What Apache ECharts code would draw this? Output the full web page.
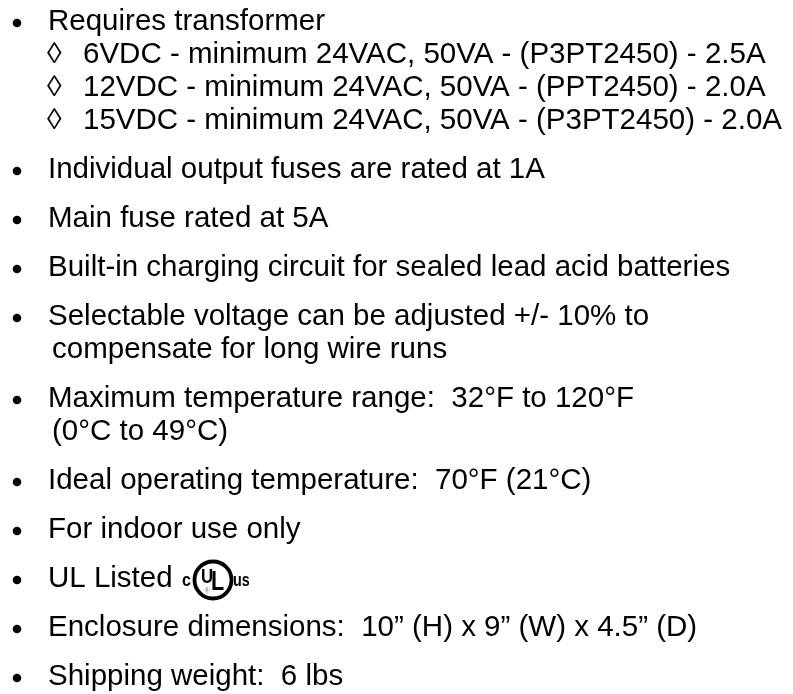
<!DOCTYPE html>
<html>
<head>
<meta charset="utf-8">
<script src="https://cdn.jsdelivr.net/npm/echarts@6/dist/echarts.min.js"></script>
<style>
  html, body { margin: 0; padding: 0; background: #fff; }
  #main { width: 793px; height: 694px; }
</style>
</head>
<body>
<div id="main"></div>
<script>
  // spec sheet text, one entry per printed line
  var lineTexts = [
    'Requires transformer',
    '6VDC - minimum 24VAC, 50VA - (P3PT2450) - 2.5A',
    '12VDC - minimum 24VAC, 50VA - (PPT2450) - 2.0A',
    '15VDC - minimum 24VAC, 50VA - (P3PT2450) - 2.0A',
    'Individual output fuses are rated at 1A',
    'Main fuse rated at 5A',
    'Built-in charging circuit for sealed lead acid batteries',
    'Selectable voltage can be adjusted +/- 10% to',
    'compensate for long wire runs',
    'Maximum temperature range:  32\u00b0F to 120\u00b0F',
    '(0\u00b0C to 49\u00b0C)',
    'Ideal operating temperature:  70\u00b0F (21\u00b0C)',
    'For indoor use only',
    'UL Listed',
    'Enclosure dimensions:  10\u201d (H) x 9\u201d (W) x 4.5\u201d (D)',
    'Shipping weight:  6 lbs'
  ];
  // bullet = new item, sub = diamond sub item, cont = wrapped line
  var lineKinds = ['bullet', 'sub', 'sub', 'sub', 'bullet', 'bullet', 'bullet', 'bullet', 'cont',
    'bullet', 'cont', 'bullet', 'bullet', 'bullet', 'bullet', 'bullet'];
  var ulMark = ['c', 'U', 'L', 'us'];

  var FONT = '29.5px "Liberation Sans", Arial, sans-serif';
  var BOLD = '"Liberation Sans", Arial';
  var FIRST = 31, ITEM_GAP = 49, LINE_GAP = 33;

  var myChart = echarts.init(document.getElementById('main'));
  var elements = [];
  var y = FIRST;
  var ulBase = 0;
  for (var i = 0; i < lineTexts.length; i++) {
    var kind = lineKinds[i];
    if (i > 0) y += (kind == 'bullet') ? ITEM_GAP : LINE_GAP;
    var mid = y - 9;
    var tx = 48;
    if (kind == 'bullet') {
      elements.push({ type: 'circle', shape: { cx: 17, cy: y - 8, r: 4.3 }, style: { fill: '#000' } });
    } else if (kind == 'sub') {
      elements.push({ type: 'text', x: 47, y: mid, style: { text: '\u25ca', font: FONT, fill: '#000', verticalAlign: 'middle' } });
      tx = 83;
    } else {
      tx = 52;
    }
    elements.push({ type: 'text', x: tx, y: mid, style: { text: lineTexts[i], font: FONT, fill: '#000', verticalAlign: 'middle' } });
    if (lineTexts[i] == 'UL Listed') ulBase = y;
  }

  // cUL us mark
  var cx = 213, cy = ulBase - 8;
  elements.push({ type: 'circle', shape: { cx: cx, cy: cy, r: 18.5 }, style: { fill: 'none', stroke: '#000', lineWidth: 3.8 } });
  elements.push({ type: 'text', x: 182, y: cy + 1, scaleX: 0.85, style: { text: ulMark[0], font: 'bold 19px ' + BOLD, fill: '#000', verticalAlign: 'middle' } });
  elements.push({ type: 'text', x: cx - 12, y: cy - 3, scaleX: 0.8, style: { text: ulMark[1], font: 'bold 21px ' + BOLD, fill: '#000', verticalAlign: 'middle' } });
  elements.push({ type: 'text', x: cx - 2, y: cy + 3, scaleX: 0.8, style: { text: ulMark[2], font: 'bold 27px ' + BOLD, fill: '#000', verticalAlign: 'middle' } });
  elements.push({ type: 'text', x: cx - 6, y: cy + 11, style: { text: '\u00ae', font: '7px "Liberation Sans", Arial', fill: '#777', verticalAlign: 'middle', align: 'center' } });
  elements.push({ type: 'text', x: cx + 20, y: cy + 1, scaleX: 0.8, style: { text: ulMark[3], font: 'bold 18px ' + BOLD, fill: '#000', verticalAlign: 'middle' } });

  var option = {
    backgroundColor: '#fff',
    animation: false,
    graphic: { elements: elements }
  };
  myChart.setOption(option);
</script>
</body>
</html>
